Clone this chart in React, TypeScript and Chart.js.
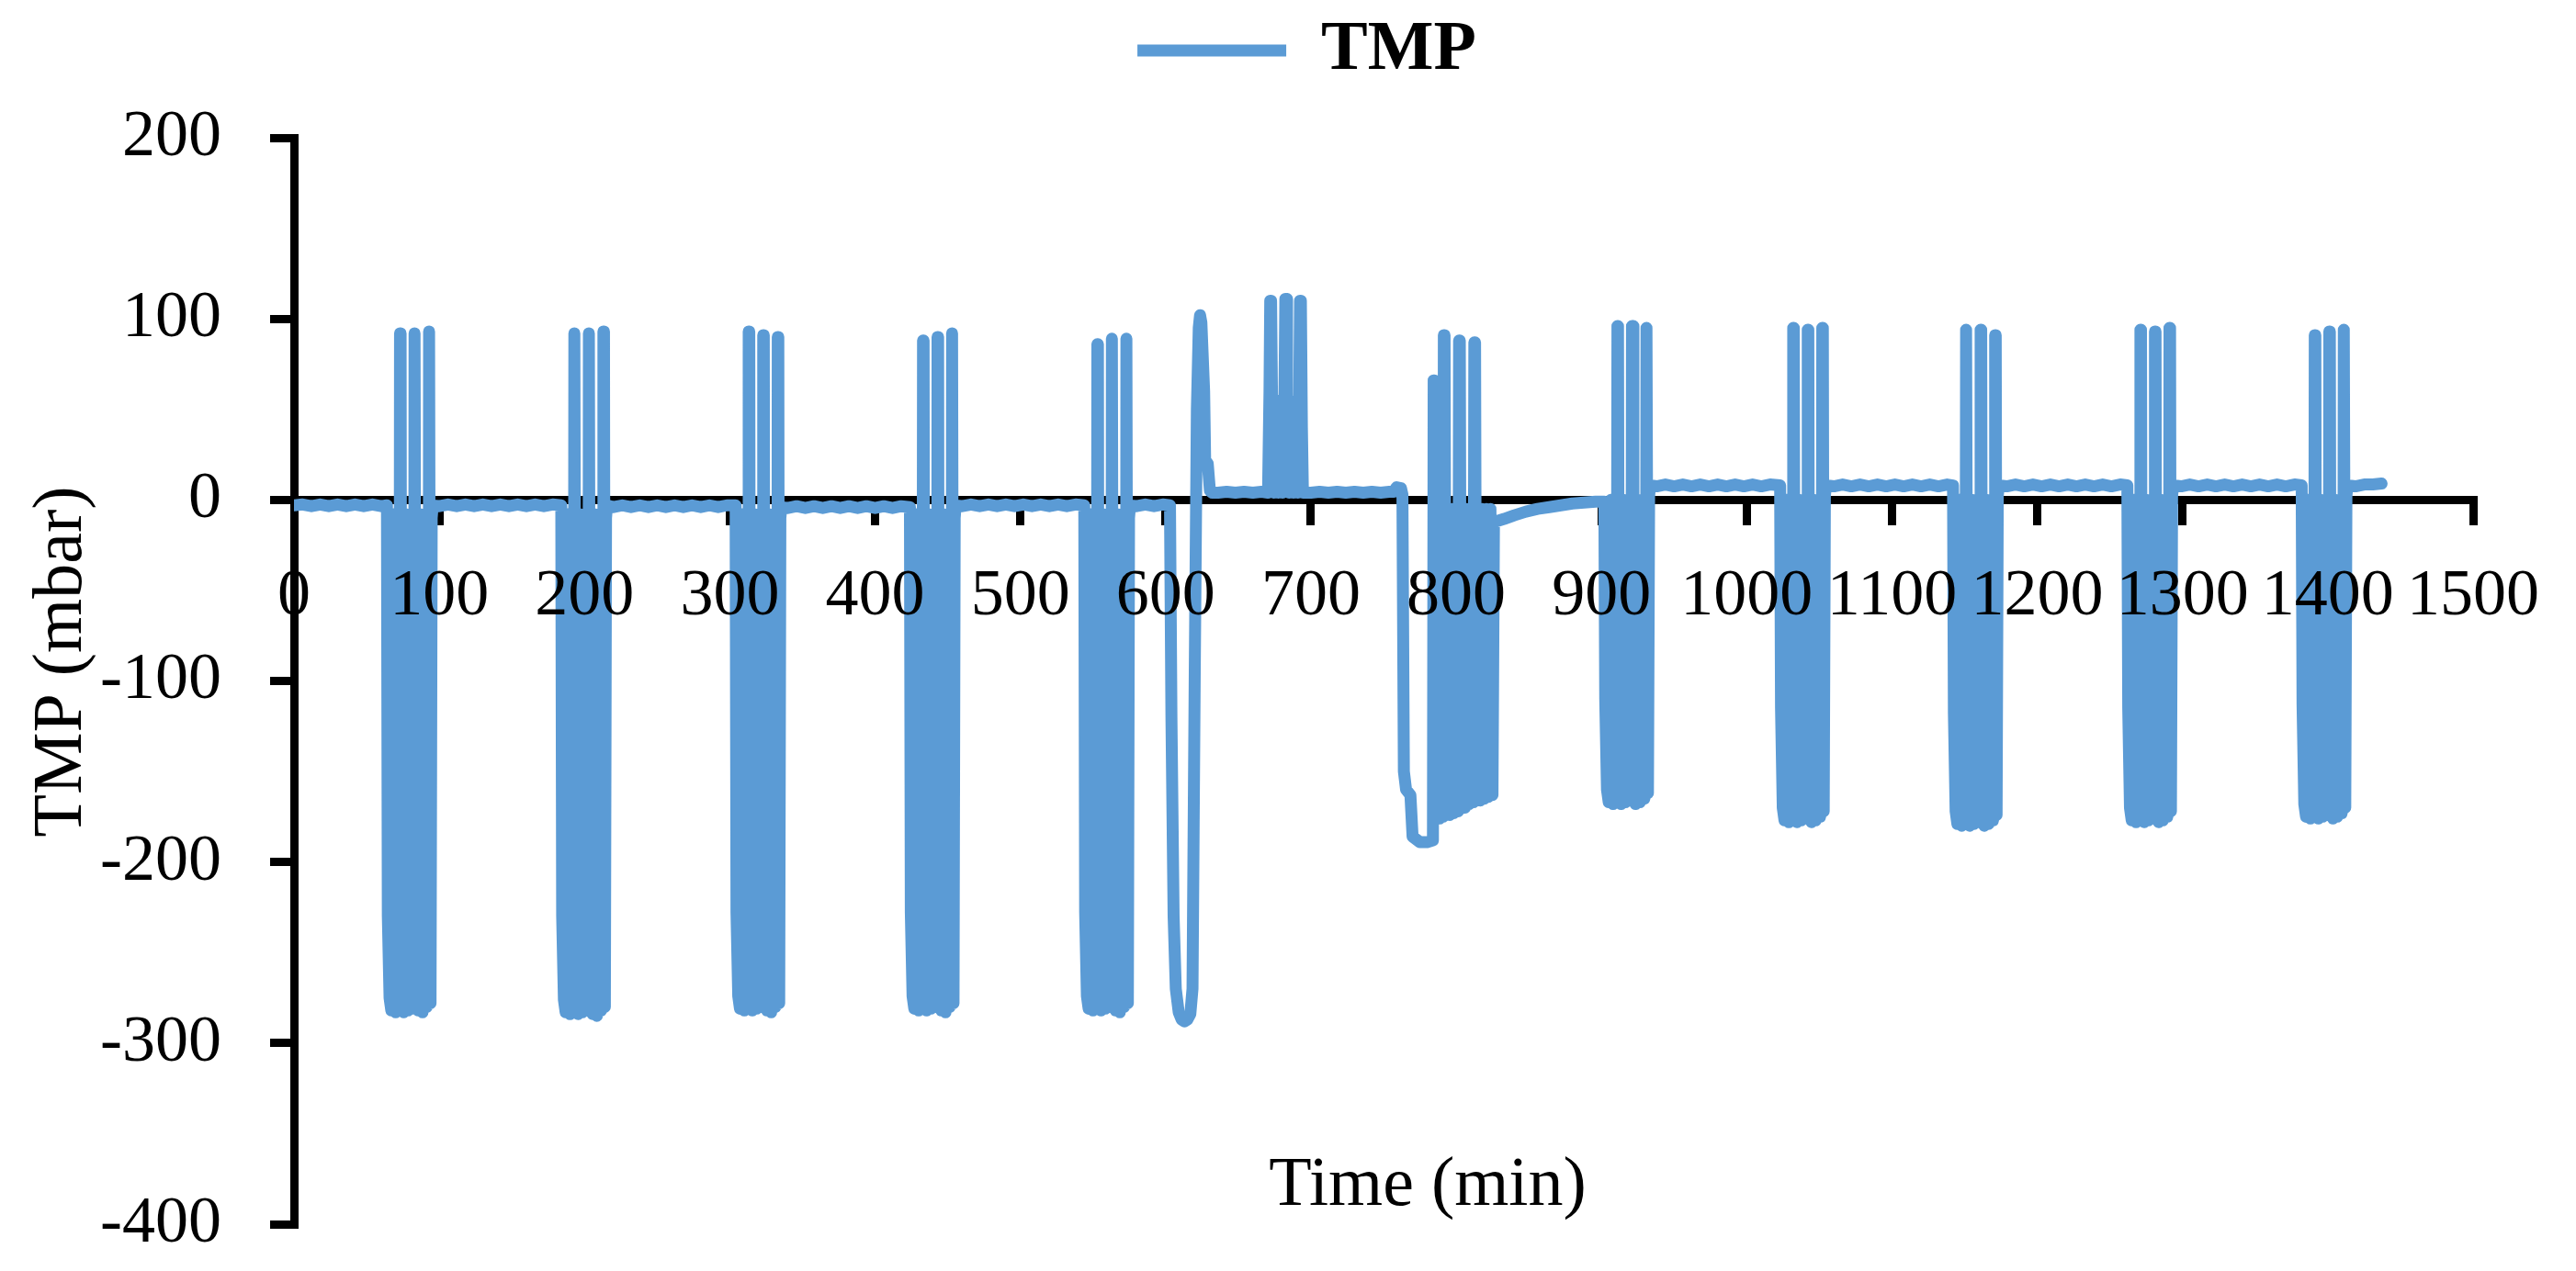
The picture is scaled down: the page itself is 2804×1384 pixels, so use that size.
import React, { useEffect, useRef } from "react";
import { Chart, registerables } from "chart.js";

Chart.register(...registerables);

const FONT = "'Liberation Serif', 'Times New Roman', serif";
const SERIES_LABEL = "TMP";
const X_TITLE = "Time (min)";
const Y_TITLE = "TMP (mbar)";
const X_MIN = 0;
const X_MAX = 1500;
const X_STEP = 100;
const Y_MIN = -400;
const Y_MAX = 200;
const Y_STEP = 100;
const LINE_COLOR = "#5B9BD5";

type Pt = [number, number];

// [time (min), TMP (mbar)]
const rest0: Pt[] = [[0,-3],[6,-2.5],[12,-3.5],[18,-2.5],[24,-3.5],[30,-2.5],[36,-3.5],[42,-2.5],[48,-3.5],[54,-2.5],[60,-3.5]];
const block1: Pt[] = [[64,-3],[64.6,-230],[65.8,-275],[67,-282],[68.5,-8],[70,-283],[71.5,-10],[72.5,-280],[73,92],[73.4,92],[74,-270],[75.5,-283],[77,-8],[78.5,-282],[80,-8],[81.5,-281],[82.6,-270],[83,92],[83.4,92],[84,-272],[85.5,-282],[87,-8],[88.5,-283],[90,-8],[91.5,-280],[92.6,-272],[93,93],[93.4,93],[94,-278],[94.8,-10],[95.5,-3]];
const rest1: Pt[] = [[100,-3.5],[106,-2.5],[112,-3.5],[118,-2.5],[124,-3.5],[130,-2.5],[136,-3.5],[142,-2.5],[148,-3.5],[154,-2.5],[160,-3.5],[166,-2.5],[172,-3.5],[178,-2.5]];
const block2: Pt[] = [[184,-3],[184.6,-230],[185.8,-276],[187,-283],[188.5,-8],[190,-284],[191.5,-8],[192.5,-281],[193,92],[193.4,92],[194,-272],[195.5,-284],[197,-8],[198.5,-283],[200,-8],[201.5,-282],[202.6,-272],[203,92],[203.4,92],[204,-273],[205.5,-284],[207,-8],[208.5,-285],[210,-8],[211.5,-282],[212.6,-274],[213,93],[213.4,93],[214,-280],[214.8,-10],[215.5,-3]];
const rest2: Pt[] = [[220,-4],[226,-3],[232,-4],[238,-3],[244,-4],[250,-3],[256,-4],[262,-3],[268,-4],[274,-3],[280,-4],[286,-3],[292,-4],[298,-3]];
const block3: Pt[] = [[304,-3],[304.6,-228],[305.8,-274],[307,-281],[308.5,-8],[310,-282],[311.5,-8],[312.5,-279],[313,93],[313.4,93],[314,-270],[315.5,-282],[317,-8],[318.5,-281],[320,-8],[321.5,-280],[322.6,-270],[323,91],[323.4,91],[324,-271],[325.5,-282],[327,-8],[328.5,-283],[330,-8],[331.5,-280],[332.6,-272],[333,90],[333.4,90],[334,-278],[334.8,-10],[335.5,-4]];
const rest3: Pt[] = [[340,-4.5],[346,-3.5],[352,-4.5],[358,-3.5],[364,-4.5],[370,-3.5],[376,-4.5],[382,-3.5],[388,-4.5],[394,-3.5],[400,-4.5],[406,-3.5],[412,-4.5],[418,-3.5]];
const block4: Pt[] = [[424,-4],[424.6,-228],[425.8,-274],[427,-281],[428.5,-8],[430,-282],[431.5,-8],[432.5,-279],[433,88],[433.4,88],[434,-270],[435.5,-282],[437,-8],[438.5,-281],[440,-8],[441.5,-280],[442.6,-270],[443,90],[443.4,90],[444,-271],[445.5,-282],[447,-8],[448.5,-283],[450,-8],[451.5,-280],[452.6,-272],[453,92],[453.4,92],[454,-278],[454.8,-10],[455.5,-3]];
const rest4: Pt[] = [[460,-3.5],[466,-2.5],[472,-3.5],[478,-2.5],[484,-3.5],[490,-2.5],[496,-3.5],[502,-2.5],[508,-3.5],[514,-2.5],[520,-3.5],[526,-2.5],[532,-3.5],[538,-2.5]];
const block5: Pt[] = [[544,-3],[544.6,-228],[545.8,-274],[547,-281],[548.5,-8],[550,-282],[551.5,-8],[552.5,-279],[553,86],[553.4,86],[554,-270],[555.5,-282],[557,-8],[558.5,-281],[560,-8],[561.5,-280],[562.6,-270],[563,89],[563.4,89],[564,-271],[565.5,-282],[567,-8],[568.5,-283],[570,-8],[571.5,-280],[572.6,-272],[573,89],[573.4,89],[574,-278],[574.8,-10],[575.5,-3]];
const rest5: Pt[] = [[580,-3.5],[586,-2.5],[592,-3.5],[598,-2.5]];
const dip600: Pt[] = [[603,-3],[604,-120],[605.5,-230],[607,-270],[609,-283],[611,-287],[613,-288],[615,-287],[617,-284],[618.5,-270],[620,-100],[621.5,50],[622.8,95],[623.7,102],[624.6,98],[626.5,60],[627.2,22],[629,20],[630.5,5],[632,4]];
const rest6: Pt[] = [[636,4],[642,4.5],[648,4],[654,4.5],[660,4],[666,4.5]];
const blockP: Pt[] = [[670.5,4],[671.5,60],[672,110],[672.6,110],[673.3,50],[674.5,4],[676,55],[677.5,4],[679,55],[680.5,4],[681.8,60],[682.4,111],[683,111],[683.6,55],[685,4],[686.5,54],[688,4],[689.5,55],[691,4],[692,60],[692.5,110],[693.1,110],[693.8,40],[694.5,4]];
const rest7: Pt[] = [[700,4],[706,4.5],[712,4],[718,4.5],[724,4],[730,4.5],[736,4],[742,4.5],[748,4],[754,4.5],[757,4.5],[759,7],[762,6.5],[763,3]];
const block780: Pt[] = [[764,-150],[765.5,-160],[768.5,-163],[770,-186],[775,-189],[780,-189],[784,-188],[784.5,66],[785,66],[785.8,-176],[787.2,-5],[788.6,-176],[790,-5],[791,-175],[791.5,91],[792,91],[792.8,-174],[794.2,-5],[795.6,-174],[797,-5],[798.4,-173],[799.8,-5],[801.4,-172],[802,88],[802.5,88],[803.3,-170],[804.7,-5],[806.1,-170],[807.5,-5],[808.9,-168],[810.3,-5],[811.9,-167],[812.5,87],[813,87],[813.8,-166],[815.2,-5],[816.6,-166],[818,-5],[819.4,-165],[820.8,-5],[822.2,-164],[823.6,-5],[825,-163],[826,-12],[827,-12]];
const recovery: Pt[] = [[833,-10.5],[840,-8.5],[848,-6.5],[856,-5],[864,-4],[872,-3],[880,-2],[888,-1.5],[896,-1]];
const block6: Pt[] = [[902,-1],[902.6,-110],[903.8,-160],[905,-167],[906.5,0],[908,-168],[909.5,0],[910.5,-165],[911,96],[911.4,96],[912,-157],[913.5,-168],[915,0],[916.5,-167],[918,0],[919.5,-166],[920.6,-158],[921,96],[921.4,96],[922,-157],[923.5,-168],[925,0],[926.5,-167],[928,0],[929.5,-165],[930.6,-160],[931,95],[931.4,95],[932,-162],[932.8,2],[933.5,8]];
const rest8: Pt[] = [[938,7.5],[944,8.5],[950,7.5],[956,8.5],[962,7.5],[968,8.5],[974,7.5],[980,8.5],[986,7.5],[992,8.5],[998,7.5],[1004,8.5],[1010,7.5],[1016,8.5]];
const block7: Pt[] = [[1023,8],[1023.6,-115],[1024.8,-170],[1026,-177],[1027.5,0],[1029,-178],[1030.5,0],[1031.5,-175],[1032,95],[1032.4,95],[1033,-167],[1034.5,-178],[1036,0],[1037.5,-177],[1039,0],[1040.5,-176],[1041.6,-168],[1042,94],[1042.4,94],[1043,-167],[1044.5,-178],[1046,0],[1047.5,-177],[1049,0],[1050.5,-175],[1051.6,-169],[1052,95],[1052.4,95],[1053,-172],[1053.8,2],[1054.5,8]];
const rest9: Pt[] = [[1060,7.5],[1066,8.5],[1072,7.5],[1078,8.5],[1084,7.5],[1090,8.5],[1096,7.5],[1102,8.5],[1108,7.5],[1114,8.5],[1120,7.5],[1126,8.5],[1132,7.5],[1138,8.5]];
const block8: Pt[] = [[1142,8],[1142.6,-118],[1143.8,-172],[1145,-179],[1146.5,0],[1148,-180],[1149.5,0],[1150.5,-177],[1151,94],[1151.4,94],[1152,-169],[1153.5,-180],[1155,0],[1156.5,-179],[1158,0],[1159.5,-178],[1160.6,-170],[1161,94],[1161.4,94],[1162,-169],[1163.5,-180],[1165,0],[1166.5,-179],[1168,0],[1169.5,-177],[1170.6,-171],[1171,91],[1171.4,91],[1172,-174],[1172.8,2],[1173.5,8]];
const rest10: Pt[] = [[1179,7.5],[1185,8.5],[1191,7.5],[1197,8.5],[1203,7.5],[1209,8.5],[1215,7.5],[1221,8.5],[1227,7.5],[1233,8.5],[1239,7.5],[1245,8.5],[1251,7.5],[1257,8.5]];
const block9: Pt[] = [[1262,8],[1262.6,-115],[1263.8,-170],[1265,-177],[1266.5,0],[1268,-178],[1269.5,0],[1270.5,-175],[1271,94],[1271.4,94],[1272,-167],[1273.5,-178],[1275,0],[1276.5,-177],[1278,0],[1279.5,-176],[1280.6,-168],[1281,93],[1281.4,93],[1282,-167],[1283.5,-178],[1285,0],[1286.5,-177],[1288,0],[1289.5,-175],[1290.6,-169],[1291,95],[1291.4,95],[1292,-172],[1292.8,2],[1293.5,8]];
const rest11: Pt[] = [[1299,7.5],[1305,8.5],[1311,7.5],[1317,8.5],[1323,7.5],[1329,8.5],[1335,7.5],[1341,8.5],[1347,7.5],[1353,8.5],[1359,7.5],[1365,8.5],[1371,7.5],[1377,8.5]];
const block10: Pt[] = [[1382,8],[1382.6,-113],[1383.8,-168],[1385,-175],[1386.5,0],[1388,-176],[1389.5,0],[1390.5,-173],[1391,91],[1391.4,91],[1392,-165],[1393.5,-176],[1395,0],[1396.5,-175],[1398,0],[1399.5,-174],[1400.6,-166],[1401,93],[1401.4,93],[1402,-165],[1403.5,-176],[1405,0],[1406.5,-175],[1408,0],[1409.5,-173],[1410.6,-167],[1411,94],[1411.4,94],[1412,-170],[1412.8,2],[1413.5,8]];
const rest12: Pt[] = [[1419,7.5],[1425,8.5],[1431,8.5],[1437,9]];

const segments: Pt[][] = [
  rest0, block1, rest1, block2, rest2, block3, rest3, block4, rest4, block5, rest5,
  dip600, rest6, blockP, rest7, block780, recovery,
  block6, rest8, block7, rest9, block8, rest10, block9, rest11, block10, rest12,
];

// layout (px)
const PAD_LEFT = 41;
const PAD_TOP = 7;
const PAD_BOTTOM = 51;
const Y_AXIS_W = 279;
const RIGHT_GAP_W = 110;
const SPACER_H = 47;

const axisTitlesPlugin = {
  id: "axisTitles",
  afterDraw(chart: any) {
    const { ctx, chartArea } = chart;
    ctx.save();
    ctx.fillStyle = "#000";
    ctx.font = `76px ${FONT}`;
    ctx.textAlign = "center";
    ctx.textBaseline = "alphabetic";
    const cx = (chartArea.left + chartArea.right) / 2 + 48;
    ctx.fillText(X_TITLE, cx, chartArea.bottom - 21);
    const cy = (chartArea.top + chartArea.bottom) / 2 - 21;
    ctx.translate(88, cy);
    ctx.rotate(-Math.PI / 2);
    ctx.fillText(Y_TITLE, 0, 0);
    ctx.restore();
  },
};

export default function App() {
  const canvasRef = useRef<HTMLCanvasElement | null>(null);

  useEffect(() => {
    if (!canvasRef.current) return;
    const data = segments.flat().map(([x, y]) => ({ x, y }));
    const chart = new Chart(canvasRef.current, {
      type: "line",
      data: {
        datasets: [
          {
            label: SERIES_LABEL,
            data,
            borderColor: LINE_COLOR,
            backgroundColor: LINE_COLOR,
            borderWidth: 13,
            pointRadius: 0,
            pointHoverRadius: 0,
            borderJoinStyle: "round",
            borderCapStyle: "round",
            tension: 0,
            fill: false,
            clip: 0,
            yAxisID: "y",
          } as any,
        ],
      },
      options: {
        responsive: false,
        animation: false,
        devicePixelRatio: 1,
        events: [],
        layout: { autoPadding: false, padding: { left: PAD_LEFT, right: 0, top: PAD_TOP, bottom: PAD_BOTTOM } },
        plugins: {
          legend: {
            display: true,
            position: "top",
            align: "center",
            labels: {
              usePointStyle: true,
              pointStyle: "line",
              pointStyleWidth: 162,
              padding: 10,
              color: "#000",
              font: { family: FONT, size: 76, weight: "bold" },
            },
          },
          subtitle: {
            display: true,
            text: "",
            position: "top",
            weight: 500,
            padding: 0,
            font: { size: SPACER_H, lineHeight: 1 },
          } as any,
          title: { display: false },
          tooltip: { enabled: false },
        },
        scales: {
          x: {
            type: "linear",
            position: { y: 0 } as any,
            min: X_MIN,
            max: X_MAX,
            afterFit: (scale: any) => {
              scale.height = 0;
              scale.paddingTop = 0;
              scale.paddingBottom = 0;
            },
            ticks: {
              stepSize: X_STEP,
              autoSkip: false,
              maxRotation: 0,
              minRotation: 0,
              padding: 40,
              color: "#000",
              font: { family: FONT, size: 72 },
              z: 1,
              callback: (v: any) => String(v),
            } as any,
            grid: {
              drawOnChartArea: false,
              drawTicks: true,
              tickLength: 23,
              lineWidth: 9,
              color: "#000",
            },
            border: { display: true, width: 9, color: "#000" },
          },
          y: {
            type: "linear",
            position: "left",
            min: Y_MIN,
            max: Y_MAX,
            afterFit: (scale: any) => {
              scale.width = Y_AXIS_W;
              scale.paddingTop = 0;
              scale.paddingBottom = 0;
            },
            ticks: {
              stepSize: Y_STEP,
              padding: 53,
              color: "#000",
              font: { family: FONT, size: 72 },
              callback: (v: any) => String(v),
            },
            grid: {
              drawOnChartArea: false,
              drawTicks: true,
              tickLength: 26,
              lineWidth: 9,
              color: "#000",
            },
            border: { display: true, width: 9, color: "#000" },
          },
          yRightGap: {
            type: "linear",
            position: "right",
            min: Y_MIN,
            max: Y_MAX,
            afterFit: (scale: any) => {
              scale.width = RIGHT_GAP_W;
              scale.paddingTop = 0;
              scale.paddingBottom = 0;
            },
            ticks: { display: false },
            grid: { display: false, drawTicks: false },
            border: { display: false },
          },
        },
      } as any,
      plugins: [axisTitlesPlugin],
    });
    return () => chart.destroy();
  }, []);

  return (
    <div style={{ position: "absolute", left: 0, top: 0, width: 2804, height: 1384, background: "#fff" }}>
      <canvas ref={canvasRef} width={2804} height={1384} style={{ display: "block" }} />
    </div>
  );
}
